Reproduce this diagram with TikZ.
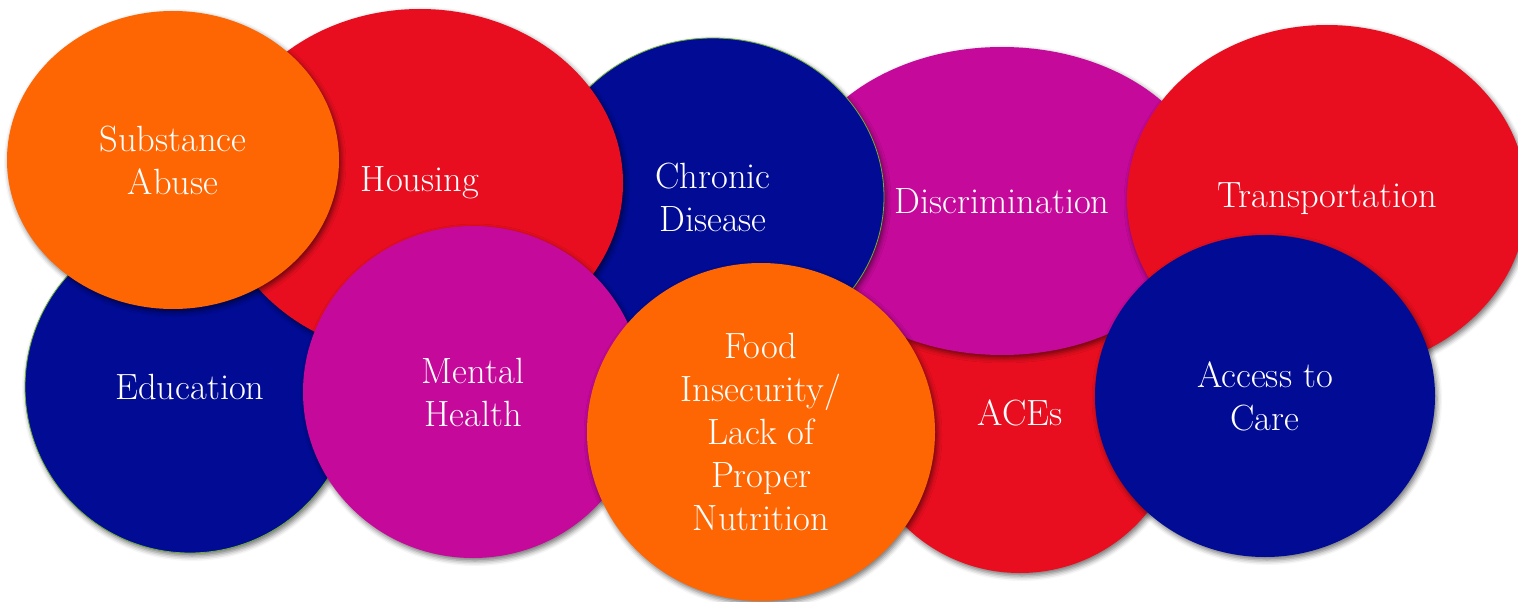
\documentclass[tikz,border=0pt]{standalone}
\usepackage{fontspec}
\usetikzlibrary{shapes.geometric,shadows.blur}
\definecolor{cRed}{HTML}{E90E1F}
\definecolor{cBlue}{HTML}{010B94}
\definecolor{cMag}{HTML}{C5099A}
\definecolor{cOrange}{HTML}{FE6603}
\definecolor{cEdge}{HTML}{6FAE3A}
\begin{document}
\begin{tikzpicture}[x=1pt,y=-1pt,
  bub/.style={ellipse, inner sep=0pt, text=white, align=center,
    font=\fontsize{36.5}{43}\selectfont,
    blur shadow={shadow xshift=2pt, shadow yshift=-3pt, shadow blur radius=5pt, shadow opacity=55}},
  rim/.style={draw=cEdge, line width=0.8pt}
]
\useasboundingbox (0,0) rectangle (1518,602);
\node[bub, rim, fill=cBlue, minimum width=330pt, minimum height=332pt] (edu) at (190,387) {Education};
\node[bub, fill=cRed, minimum width=325pt, minimum height=320pt] (aces) at (1020,413) {ACEs};
\node[bub, fill=cMag, minimum width=420pt, minimum height=308pt] (disc) at (1002,201) {Discrimination};
\node[bub, rim, fill=cBlue, minimum width=342pt, minimum height=318pt] (chron) at (713,197) {Chronic\\Disease};
\node[bub, fill=cRed, minimum width=406pt, minimum height=348pt] (hous) at (420,183) {Housing};
\node[bub, fill=cOrange, minimum width=332pt, minimum height=298pt] (subs) at (173,160) {Substance\\Abuse};
\node[bub, fill=cMag, minimum width=340pt, minimum height=332pt] (ment) at (473,392) {Mental\\Health};
\node[bub, fill=cOrange, minimum width=348pt, minimum height=338pt] (food) at (761,432) {Food\\Insecurity/\\Lack of\\Proper\\Nutrition};
\node[bub, fill=cRed, minimum width=400pt, minimum height=348pt] (trans) at (1327,199) {Transportation};
\node[bub, fill=cBlue, minimum width=340pt, minimum height=322pt] (acc) at (1265,396) {Access to\\Care};
\end{tikzpicture}
\end{document}
